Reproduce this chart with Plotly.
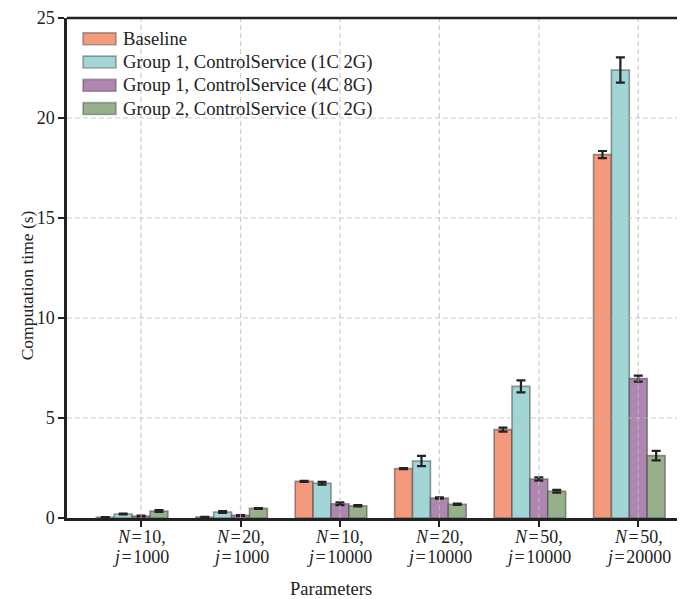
import plotly.graph_objects as go
import numpy as np

HS = "\u200a"
categories = [f"<i>N</i>{HS}={HS}10,<br><i>j</i>{HS}={HS}1000", f"<i>N</i>{HS}={HS}20,<br><i>j</i>{HS}={HS}1000",
              f"<i>N</i>{HS}={HS}10,<br><i>j</i>{HS}={HS}10000", f"<i>N</i>{HS}={HS}20,<br><i>j</i>{HS}={HS}10000",
              f"<i>N</i>{HS}={HS}50,<br><i>j</i>{HS}={HS}10000", f"<i>N</i>{HS}={HS}50,<br><i>j</i>{HS}={HS}20000"]
series_names = ["Baseline", "Group 1, ControlService (1C 2G)",
                "Group 1, ControlService (4C 8G)", "Group 2, ControlService (1C 2G)"]
baseline = [0.04, 0.05, 1.83, 2.47, 4.42, 18.17]
g1_1c2g = [0.20, 0.30, 1.74, 2.85, 6.58, 22.40]
g1_4c8g = [0.10, 0.13, 0.71, 1.00, 1.95, 6.97]
g2_1c2g = [0.35, 0.48, 0.61, 0.69, 1.34, 3.12]
baseline_err = [0.01, 0.01, 0.03, 0.03, 0.10, 0.18]
g1_1c2g_err = [0.02, 0.05, 0.07, 0.26, 0.30, 0.63]
g1_4c8g_err = [0.02, 0.02, 0.07, 0.03, 0.08, 0.15]
g2_1c2g_err = [0.05, 0.02, 0.03, 0.03, 0.07, 0.24]
y_ticks = [0, 5, 10, 15, 20, 25]

values = [baseline, g1_1c2g, g1_4c8g, g2_1c2g]
errors = [baseline_err, g1_1c2g_err, g1_4c8g_err, g2_1c2g_err]
colors = ["#F4997B", "#A2D6D6", "#AE86B0", "#97AF8A"]

FONT = "Liberation Serif"
TXT = "#222222"
x_idx = np.arange(len(categories))
w = 0.18

# page has an 8px body margin; shift the figure so the plot lands where the reference has it
PAGE_OFF = 8
W, H = 685 - PAGE_OFF, 599 - PAGE_OFF
L, T, B = 67 - PAGE_OFF, 13 - PAGE_OFF, 599 - 518
PW, PH = 685 - 67, 518 - 13


def px_x(p):
    return (p - 67) / PW


def px_y(p):
    return (518 - p) / PH


fig = go.Figure()
for i, (name, v, e, c) in enumerate(zip(series_names, values, errors, colors)):
    fig.add_trace(go.Bar(
        x=x_idx, y=v, name=name, width=w, offset=(i - 2.5) * w, showlegend=False,
        marker=dict(color=c, line=dict(color="rgba(70,70,70,0.55)", width=1.6)),
        error_y=dict(type="data", array=e, visible=True, color=TXT,
                     thickness=2.2, width=4.5),
    ))

grid_line = dict(color="rgba(190,190,190,0.75)", width=1.2, dash="5px,3px")
shapes = []
for xv in x_idx:
    shapes.append(dict(type="line", xref="x", yref="paper", x0=xv, x1=xv, y0=0, y1=1,
                       line=grid_line, layer="above"))
for yv in y_ticks[1:-1]:
    shapes.append(dict(type="line", xref="paper", yref="y", x0=0, x1=1, y0=yv, y1=yv,
                       line=grid_line, layer="above"))
shapes.append(dict(type="line", xref="paper", yref="paper", x0=0, x1=1, y0=1, y1=1,
                   line=dict(color=TXT, width=2.5), layer="above"))

annotations = [
    dict(text="Parameters", xref="paper", yref="paper", x=px_x(331), y=px_y(590),
         xanchor="center", yanchor="middle", showarrow=False,
         font=dict(family=FONT, size=18.5, color=TXT)),
    dict(text="Computation time (s)", xref="paper", yref="paper", x=px_x(27), y=px_y(283),
         xanchor="center", yanchor="middle", showarrow=False, textangle=-90,
         font=dict(family=FONT, size=17.5, color=TXT)),
]

# two-line category labels with the reference's tighter line spacing
for xv, cat in zip(x_idx, categories):
    for line, cy in zip(cat.split("<br>"), [537, 557]):
        annotations.append(dict(text=line, xref="x", yref="paper", x=xv, y=px_y(cy),
                                xanchor="center", yanchor="middle", showarrow=False,
                                font=dict(family=FONT, size=18, color=TXT)))

# custom legend (wide swatches like the reference)
legend_centers = [34, 57.5, 81, 104.5]
for name, c, cy in zip(series_names, colors, legend_centers):
    shapes.append(dict(type="rect", xref="paper", yref="paper",
                       x0=px_x(83), x1=px_x(116), y0=px_y(cy + 6), y1=px_y(cy - 6),
                       fillcolor=c, line=dict(color="rgba(70,70,70,0.45)", width=1.6),
                       layer="above"))
    annotations.append(dict(text=name, xref="paper", yref="paper", x=px_x(121), y=px_y(cy),
                            xanchor="left", yanchor="middle", showarrow=False,
                            font=dict(family=FONT, size=18.6, color=TXT)))

fig.update_layout(
    width=W, height=H,
    margin=dict(l=L, r=0, t=T, b=B),
    plot_bgcolor="white", paper_bgcolor="white",
    font=dict(family=FONT, size=17, color=TXT),
    barmode="overlay",
    showlegend=False,
    xaxis=dict(range=[-0.745, 5.47], tickvals=x_idx, showticklabels=False,
               showgrid=False, zeroline=False, showline=True, linecolor=TXT, linewidth=2.5,
               ticks="outside", ticklen=6, tickwidth=2, tickcolor=TXT),
    yaxis=dict(range=[0, 25], tickvals=y_ticks, showgrid=False, zeroline=False,
               showline=True, linecolor=TXT, linewidth=2.5,
               ticks="outside", ticklen=6, tickwidth=2, tickcolor=TXT, ticklabeloverflow="allow",
               tickfont=dict(family=FONT, size=18, color=TXT)),
    shapes=shapes,
    annotations=annotations,
)

fig.write_html("out.html")
